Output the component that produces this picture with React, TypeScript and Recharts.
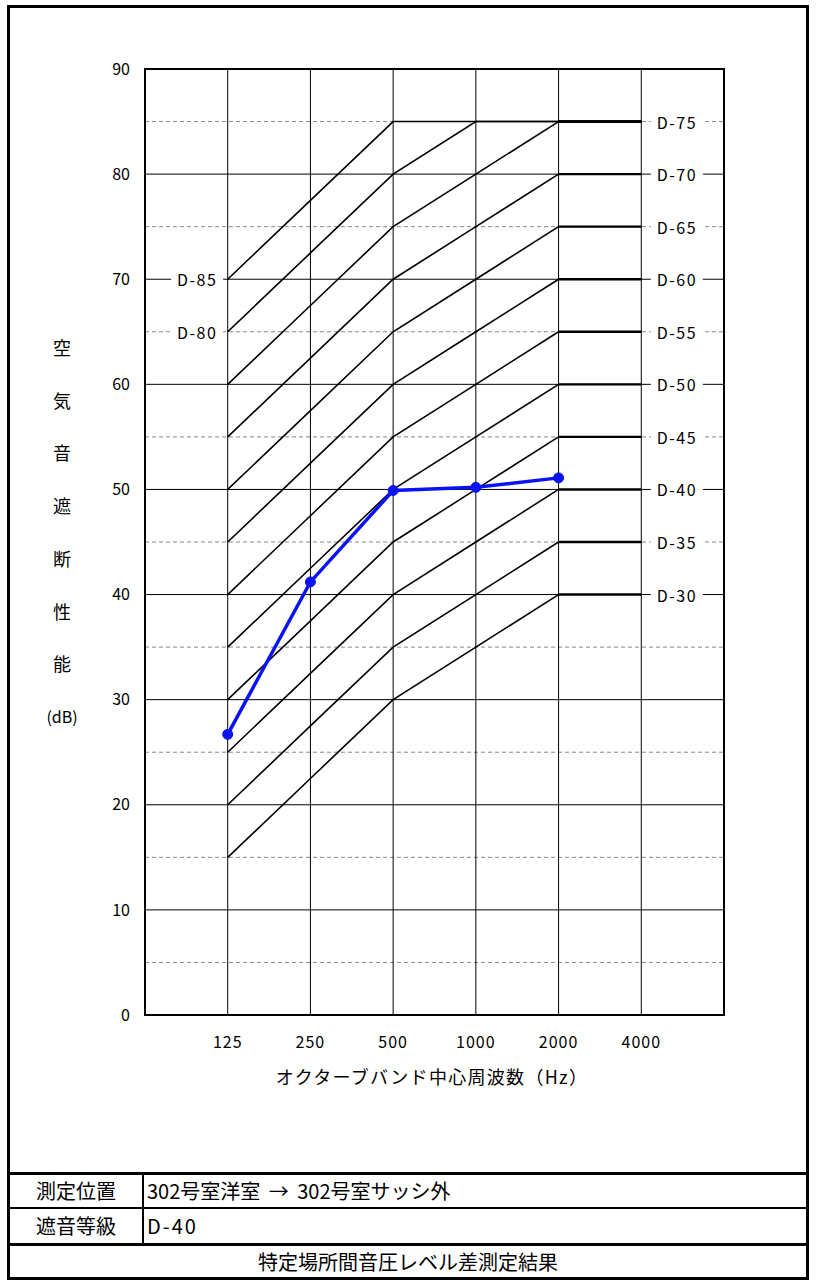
import React from 'react';
import {
  ComposedChart,
  Line,
  Scatter,
  XAxis,
  YAxis,
} from 'recharts';

const FONT = '"Noto Sans CJK JP", "Noto Sans", sans-serif';

// octave band centre frequencies (Hz)
const freqs = ['125', '250', '500', '1000', '2000', '4000'];
// measured level difference (dB) at 125..2000 Hz
const measured = [26.7, 41.2, 49.9, 50.2, 51.1];
// D-number reference curves
const dRatings = [85, 80, 75, 70, 65, 60, 55, 50, 45, 40, 35, 30];
// reference curve shape relative to the D number, 125..4000 Hz
const dOffsets = [-15, -7.5, 0, 5, 10, 10];
const dCap = 85;
const rightLabels = ['D-75', 'D-70', 'D-65', 'D-60', 'D-55', 'D-50', 'D-45', 'D-40', 'D-35', 'D-30'];
const rightLabelValues = [85, 80, 75, 70, 65, 60, 55, 50, 45, 40];
const leftLabels = ['D-85', 'D-80'];
const leftLabelValues = [70, 65];
const yTicks = [0, 10, 20, 30, 40, 50, 60, 70, 80, 90];
const solidRows = [10, 20, 30, 40, 50, 60, 70, 80];
const dashedRows = [5, 15, 25, 35, 45, 55, 65, 75, 85];
const yTitle = ['空', '気', '音', '遮', '断', '性', '能', '(dB)'];

const measuredData = measured.map((v, i) => ({ x: i + 1, y: v }));

const curve = (d: number, from: number, to: number) =>
  dOffsets.slice(from, to + 1).map((o, k) => ({ x: from + k + 1, y: Math.min(dCap, d + o) }));

const rightLabelData = rightLabels.map((t, i) => ({ x: 6.43, y: rightLabelValues[i], t }));
const leftLabelData = leftLabels.map((t, i) => ({ x: 0.63, y: leftLabelValues[i], t }));

const LabelShape = (p: any) => (
  <g>
    <rect x={p.cx - 26} y={p.cy - 11} width={52} height={22} fill="#fff" />
    <text
      x={p.cx}
      y={p.cy}
      textAnchor="middle"
      dominantBaseline="central"
      fontSize={16}
      fontFamily={FONT}
      letterSpacing={1.5}
      fill="#000"
    >
      {p.payload.t}
    </text>
  </g>
);

const abs = (s: React.CSSProperties): React.CSSProperties => ({ position: 'absolute', ...s });

export default function App() {
  return (
    <div style={abs({ left: 0, top: 0, width: 816, height: 1282, background: '#fff', fontFamily: FONT })}>
      <div style={abs({ left: 0, top: 0 })}>
        <ComposedChart width={816} height={1282} margin={{ top: 69, right: 92, bottom: 0, left: 0 }}>
          <XAxis
            dataKey="x"
            type="number"
            domain={[0, 7]}
            ticks={[1, 2, 3, 4, 5, 6]}
            tickFormatter={(v: number) => freqs[v - 1]}
            height={267}
            axisLine={false}
            tickLine={false}
            tickSize={0}
            tickMargin={22}
            tick={{ fill: '#000', fontSize: 16, fontFamily: FONT, letterSpacing: 1 }}
            allowDataOverflow
          />
          <YAxis
            dataKey="y"
            type="number"
            domain={[0, 90]}
            ticks={yTicks}
            width={145}
            axisLine={false}
            tickLine={false}
            tickSize={0}
            tickMargin={15}
            tick={{ fill: '#000', fontSize: 16, fontFamily: FONT }}
            allowDataOverflow
          />
          {dashedRows.map((v) => (
            <Line
              key={`dr-${v}`}
              data={[{ x: 0, y: v }, { x: 7, y: v }]}
              dataKey="y"
              stroke="#888"
              strokeWidth={1}
              strokeDasharray="4 3"
              dot={false}
              isAnimationActive={false}
            />
          ))}
          {solidRows.map((v) => (
            <Line
              key={`sr-${v}`}
              data={[{ x: 0, y: v }, { x: 7, y: v }]}
              dataKey="y"
              stroke="#000"
              strokeWidth={1}
              dot={false}
              isAnimationActive={false}
            />
          ))}
          {freqs.map((f, i) => (
            <Line
              key={`col-${f}`}
              data={[{ x: i + 1, y: 0 }, { x: i + 1, y: 90 }]}
              dataKey="y"
              stroke="#000"
              strokeWidth={1}
              dot={false}
              isAnimationActive={false}
            />
          ))}
          {dRatings.map((d) => (
            <Line
              key={`d-${d}`}
              data={curve(d, 0, 4)}
              dataKey="y"
              stroke="#000"
              strokeWidth={1.6}
              dot={false}
              isAnimationActive={false}
            />
          ))}
          {dRatings.map((d) => (
            <Line
              key={`dt-${d}`}
              data={curve(d, 4, 5)}
              dataKey="y"
              stroke="#000"
              strokeWidth={2.4}
              dot={false}
              isAnimationActive={false}
            />
          ))}
          <Scatter data={rightLabelData} dataKey="y" shape={LabelShape} isAnimationActive={false} />
          <Scatter data={leftLabelData} dataKey="y" shape={LabelShape} isAnimationActive={false} />
          <Line
            data={measuredData}
            dataKey="y"
            stroke="#0a14f0"
            strokeWidth={3.5}
            dot={{ r: 5, fill: '#0a14f0', stroke: '#0a14f0', strokeWidth: 1 }}
            isAnimationActive={false}
          />
        </ComposedChart>
      </div>

      {/* plot frame */}
      <div style={abs({ left: 144, top: 68, width: 581, height: 948, border: '2px solid #000', boxSizing: 'border-box' })} />

      {/* axis titles */}
      {yTitle.map((c, i) => (
        <div
          key={c}
          style={abs({ left: 32, width: 60, top: 335 + i * 52.7, height: 24, lineHeight: '24px', textAlign: 'center', fontSize: i === 7 ? 16 : 18, color: '#000' })}
        >
          {c}
        </div>
      ))}
      <div style={abs({ left: 232, width: 400, top: 1063, height: 26, lineHeight: '26px', textAlign: 'center', fontSize: 18, letterSpacing: 1.3, color: '#000' })}>
        オクターブバンド中心周波数（Hz）
      </div>

      {/* outer frame and result table */}
      <div style={abs({ left: 7, top: 5, width: 802, height: 1275, border: '3px solid #000', boxSizing: 'border-box' })} />
      <div style={abs({ left: 7, top: 1172, width: 802, height: 3, background: '#000' })} />
      <div style={abs({ left: 7, top: 1207, width: 802, height: 2, background: '#000' })} />
      <div style={abs({ left: 7, top: 1243, width: 802, height: 3, background: '#000' })} />
      <div style={abs({ left: 142, top: 1175, width: 2, height: 68, background: '#000' })} />

      <div style={abs({ left: 10, width: 132, top: 1175, height: 32, lineHeight: '32px', textAlign: 'center', fontSize: 20 })}>測定位置</div>
      <div style={abs({ left: 147, top: 1175, height: 32, lineHeight: '32px', fontSize: 20, whiteSpace: 'nowrap', wordSpacing: 4 })}>302号室洋室 → 302号室サッシ外</div>
      <div style={abs({ left: 10, width: 132, top: 1209, height: 34, lineHeight: '34px', textAlign: 'center', fontSize: 20 })}>遮音等級</div>
      <div style={abs({ left: 147, top: 1209, height: 34, lineHeight: '34px', fontSize: 20, letterSpacing: 2 })}>D-40</div>
      <div style={abs({ left: 10, width: 796, top: 1246, height: 31, lineHeight: '31px', textAlign: 'center', fontSize: 20 })}>特定場所間音圧レベル差測定結果</div>
    </div>
  );
}
